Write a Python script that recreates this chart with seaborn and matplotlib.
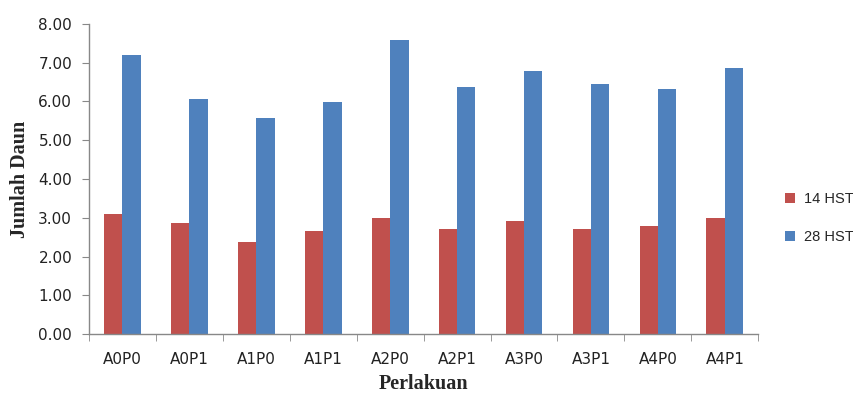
import matplotlib
matplotlib.use("Agg")
import matplotlib.pyplot as plt
import seaborn as sns
import pandas as pd

# data
perlakuan = ["A0P0", "A0P1", "A1P0", "A1P1", "A2P0", "A2P1", "A3P0", "A3P1", "A4P0", "A4P1"]
hst_14 = [3.10, 2.86, 2.37, 2.65, 2.99, 2.71, 2.92, 2.71, 2.79, 2.99]
hst_28 = [7.20, 6.06, 5.58, 5.99, 7.59, 6.38, 6.79, 6.45, 6.33, 6.86]
series = ["14 HST", "28 HST"]
colors = ["#C0504D", "#4F81BD"]

df = pd.DataFrame({
    "Perlakuan": perlakuan * 2,
    "Jumlah": hst_14 + hst_28,
    "Umur": [series[0]] * len(perlakuan) + [series[1]] * len(perlakuan),
})

sns.set_style("white")
plt.rcParams["font.family"] = ["DejaVu Sans"]

fig = plt.figure(figsize=(8.54, 3.93), dpi=100)
ax = fig.add_axes([0.104, 0.150, 0.784, 0.789])

sns.barplot(data=df, x="Perlakuan", y="Jumlah", hue="Umur", palette=colors,
            width=0.55, ax=ax, saturation=1, edgecolor="none")

ax.set_ylim(0, 8)
ax.set_xlim(-0.5, len(perlakuan) - 0.5)
ax.set_yticks(range(0, 9))
ax.set_yticklabels([f"{v:.2f}" for v in range(0, 9)], fontsize=11, color="#222222")
ax.tick_params(axis="x", length=0, labelsize=11, labelcolor="#222222", pad=13)
ax.tick_params(axis="y", length=5, color="#888888", direction="out", left=True, pad=7)
ax.set_xticks([i + 0.5 for i in range(-1, len(perlakuan))], minor=True)
ax.tick_params(axis="x", which="minor", length=5, color="#888888", direction="out", bottom=True)

for side in ["top", "right"]:
    ax.spines[side].set_visible(False)
for side in ["left", "bottom"]:
    ax.spines[side].set_color("#888888")
    ax.spines[side].set_linewidth(1)

ax.set_xlabel("Perlakuan", fontsize=14.5, fontweight="bold", family="Liberation Serif", labelpad=5)
ax.set_ylabel("Jumlah Daun", fontsize=14.5, fontweight="bold", family="Liberation Serif", labelpad=6)

handles, labels = ax.get_legend_handles_labels()
ax.legend(handles, labels, loc="center left", bbox_to_anchor=(1.02, 0.375), frameon=False,
          prop={"family": "Liberation Sans", "size": 10.5},
          handlelength=0.7, handleheight=0.7, handletextpad=0.6, labelspacing=1.65)

fig.savefig("out.png", dpi=100)
